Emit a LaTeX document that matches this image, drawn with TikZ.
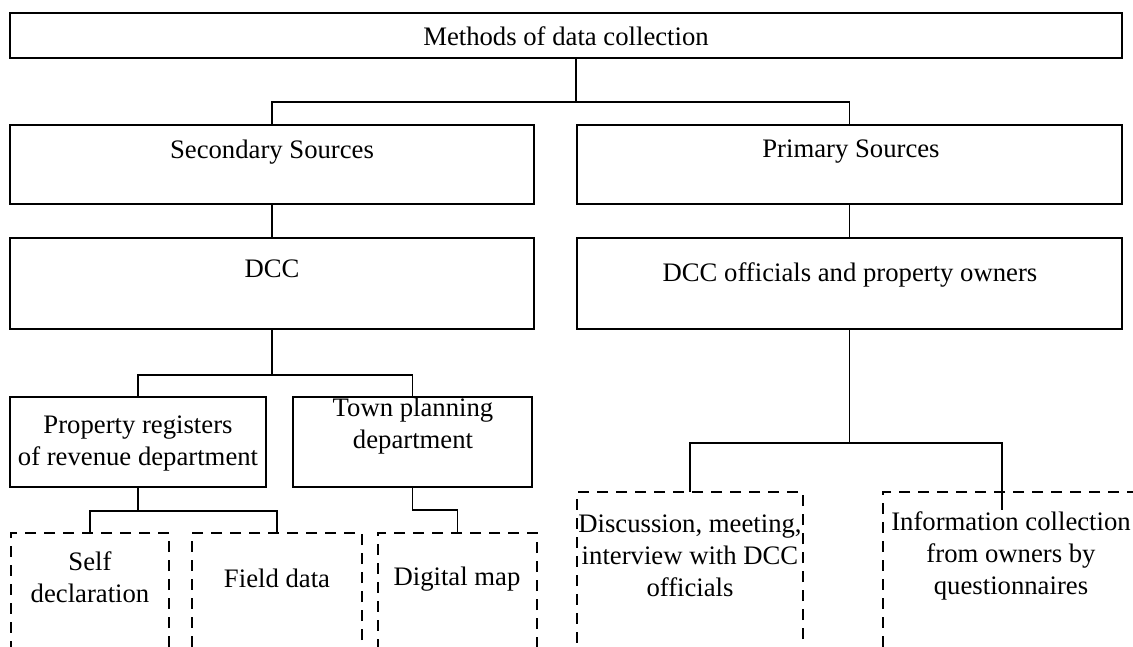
\documentclass[tikz,border=0pt]{standalone}
\usepackage{fontspec}
\setmainfont{Liberation Serif}
\usetikzlibrary{calc}
\begin{document}
\begin{tikzpicture}[x=1pt,y=-1pt,
  box/.style={draw=black,line width=1.8pt,rectangle,inner sep=0pt,outer sep=0pt},
  dbox/.style={draw=black,line width=1.8pt,rectangle,inner sep=0pt,outer sep=0pt,dash pattern=on 11pt off 8pt},
  conn/.style={draw=black,line width=1.8pt},
  txt/.style={align=center,inner sep=0pt,font=\fontsize{26.7}{32}\selectfont}]
\useasboundingbox (0,0) rectangle (1133,646);
\fill[white] (0,0) rectangle (1133,646);
\clip (0,0) rectangle (1133,646);
% boxes
\node[box,minimum width=1112pt,minimum height=45pt] (top) at (566,35.5) {};
\node[box,minimum width=524pt,minimum height=79pt] (sec) at (272,164.5) {};
\node[box,minimum width=545pt,minimum height=79pt] (prim) at (849.5,164.5) {};
\node[box,minimum width=524pt,minimum height=91pt] (dcc) at (272,283.5) {};
\node[box,minimum width=545pt,minimum height=91pt] (dcco) at (849.5,283.5) {};
\node[box,minimum width=256pt,minimum height=90pt] (prop) at (138,442) {};
\node[box,minimum width=239pt,minimum height=90pt] (town) at (412.5,442) {};
\node[dbox,minimum width=158pt,minimum height=127pt] (self) at (90,596.5) {};
\node[dbox,minimum width=170pt,minimum height=127pt] (field) at (277,596.5) {};
\node[dbox,minimum width=159pt,minimum height=127pt] (dmap) at (457.5,596.5) {};
\node[dbox,minimum width=226pt,minimum height=168pt] (disc) at (690,576) {};
\node[dbox,minimum width=262pt,minimum height=168pt] (info) at (1014,576) {};
% texts
\node[txt] (ttop) at (566,36) {Methods of data collection};
\node[txt] (tsec) at (272,152) {Secondary Sources};
\node[txt] (tprim) at (851,152) {Primary Sources};
\node[txt] (tdcc) at (272,269) {DCC};
\node[txt] (tdcco) at (850,275) {DCC officials and property owners};
\node[txt] (tprop) at (138,443) {Property registers\\of revenue department};
\node[txt] (ttown) at (413,426) {Town planning\\department};
\node[txt] (tself) at (90,577) {Self\\declaration};
\node[txt] (tfield) at (277,578) {Field data};
\node[txt] (tdmap) at (457,579) {Digital map};
\node[txt] (tdisc) at (690,556) {Discussion, meeting,\\interview with DCC\\officials};
\node[txt] (tinfo) at (1011,556) {Information collection\\from owners by\\questionnaires};
% junctions
\coordinate (j1) at (576,102);
\coordinate (j2) at (272,375);
\coordinate (j3) at (138,511);
\coordinate (j4) at (412.5,510);
\coordinate (j5) at (849.5,443);
\coordinate (k) at (1002,510);
% connectors
\draw[conn] (top.south -| j1) -- (j1);
\draw[conn] (sec.north) |- (j1) -| (prim.north);
\draw[conn] (sec.south) -- (dcc.north);
\draw[conn] (prim.south) -- (dcco.north);
\draw[conn] (dcc.south) -- (j2);
\draw[conn] (prop.north) |- (j2) -| (town.north);
\draw[conn] (prop.south) -- (j3);
\draw[conn] (self.north) |- (j3) -| (field.north);
\draw[conn] (town.south) -- (j4) -| (dmap.north);
\draw[conn] (dcco.south) -- (j5);
\draw[conn] (disc.north) |- (j5) -| (k);
\end{tikzpicture}
\end{document}
